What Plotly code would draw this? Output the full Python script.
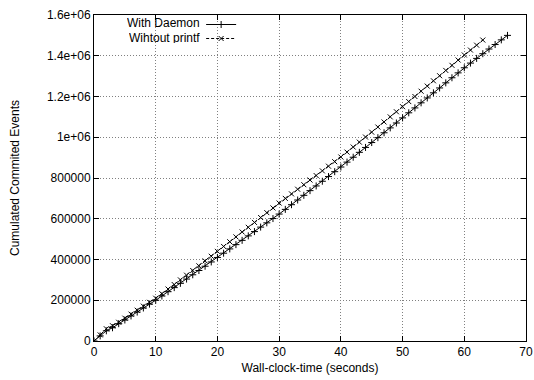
import plotly.graph_objects as go

daemon_t = list(range(0, 68))
daemon_events = [
    0, 25000, 50000, 65000, 85000, 103000, 123000, 142000, 162000, 181000,
    200000, 221000, 242000, 262000, 283000, 304000, 325000, 346000, 367000, 388000,
    410000, 431000, 452000, 473000, 494000, 516000, 537000, 559000, 580000, 601000,
    623000, 646000, 669000, 692000, 715000, 738000, 761000, 784000, 807000, 831000,
    854000, 878000, 902000, 926000, 950000, 974000, 998000, 1022000, 1046000, 1070000,
    1095000, 1120000, 1144000, 1169000, 1193000, 1218000, 1242000, 1267000, 1292000, 1316000,
    1341000, 1364000, 1387000, 1410000, 1433000, 1455000, 1478000, 1500000,
]

printf_t = list(range(0, 64))
printf_events = [
    0, 30000, 60000, 75000, 92000, 112000, 132000, 151000, 171000, 190000,
    210000, 232000, 255000, 277000, 300000, 323000, 346000, 369000, 393000, 416000,
    440000, 464000, 487000, 511000, 535000, 558000, 582000, 606000, 630000, 653000,
    677000, 700000, 722000, 745000, 767000, 790000, 812000, 835000, 858000, 880000,
    903000, 927000, 952000, 976000, 1001000, 1025000, 1050000, 1075000, 1100000, 1125000,
    1150000, 1175000, 1200000, 1226000, 1251000, 1277000, 1302000, 1328000, 1353000, 1379000,
    1404000, 1428000, 1452000, 1477000,
]

series_names = ["With Daemon", "Wihtout printf"]
x_ticks = [0, 10, 20, 30, 40, 50, 60, 70]
y_ticks = [0, 200000, 400000, 600000, 800000, 1000000, 1200000, 1400000, 1600000]
y_tick_labels = ["0", "200000", "400000", "600000", "800000", "1e+06", "1.2e+06", "1.4e+06", "1.6e+06"]

FONT = "Liberation Sans, Arial, Helvetica, sans-serif"

fig = go.Figure()
fig.add_trace(go.Scatter(
    x=daemon_t, y=daemon_events, mode="lines+markers", name="", legend="legend",
    line=dict(color="black", width=1),
    marker=dict(symbol="cross-thin", size=5, line=dict(color="black", width=1)),
))
fig.add_trace(go.Scatter(
    x=printf_t, y=printf_events, mode="lines+markers", name="", legend="legend2",
    line=dict(color="black", width=1, dash="3px,2px"),
    marker=dict(symbol="x-thin", size=5, line=dict(color="black", width=1)),
))

# legend labels (text to the left of the samples, gnuplot style)
label_y = [0.9755, 0.9325]
for nm, yy in zip(series_names, label_y):
    fig.add_annotation(
        x=0.247, y=yy, xref="paper", yref="paper",
        text=nm, showarrow=False, xanchor="right", yanchor="middle",
        height=11, valign="middle", borderpad=0,
        font=dict(family=FONT, size=12, color="black"),
    )

axis_common = dict(
    showline=True, linecolor="black", linewidth=1, mirror="ticks",
    ticks="inside", ticklen=5, tickcolor="black",
    showgrid=True, gridcolor="#808080", griddash="1px,2px", gridwidth=1,
    zeroline=False, tickfont=dict(family=FONT, size=12, color="black"),
    automargin=False,
)

fig.update_xaxes(
    range=[0, 70], tickvals=x_ticks,
    title=dict(text="Wall-clock-time (seconds)", font=dict(family=FONT, size=12, color="black"), standoff=5),
    **axis_common,
)
fig.update_yaxes(
    range=[0, 1600000], tickvals=y_ticks, ticktext=y_tick_labels,
    title=dict(text="Cumulated Commited Events", font=dict(family=FONT, size=12, color="black"), standoff=24),
    **axis_common,
)

leg_common = dict(
    x=0.248, xanchor="left", yanchor="top",
    bgcolor="rgba(0,0,0,0)", itemwidth=30,
    font=dict(family=FONT, size=8),
)

fig.update_layout(
    width=534, height=380,
    margin=dict(l=94, r=8, t=15, b=39),
    paper_bgcolor="white", plot_bgcolor="white",
    showlegend=True,
    legend=dict(y=1.0153, **leg_common),
    legend2=dict(y=0.9724, **leg_common),
    font=dict(family=FONT, size=12, color="black"),
)

fig.write_html("out.html", config={"displayModeBar": False},
               post_script="document.body.style.margin='0';")
